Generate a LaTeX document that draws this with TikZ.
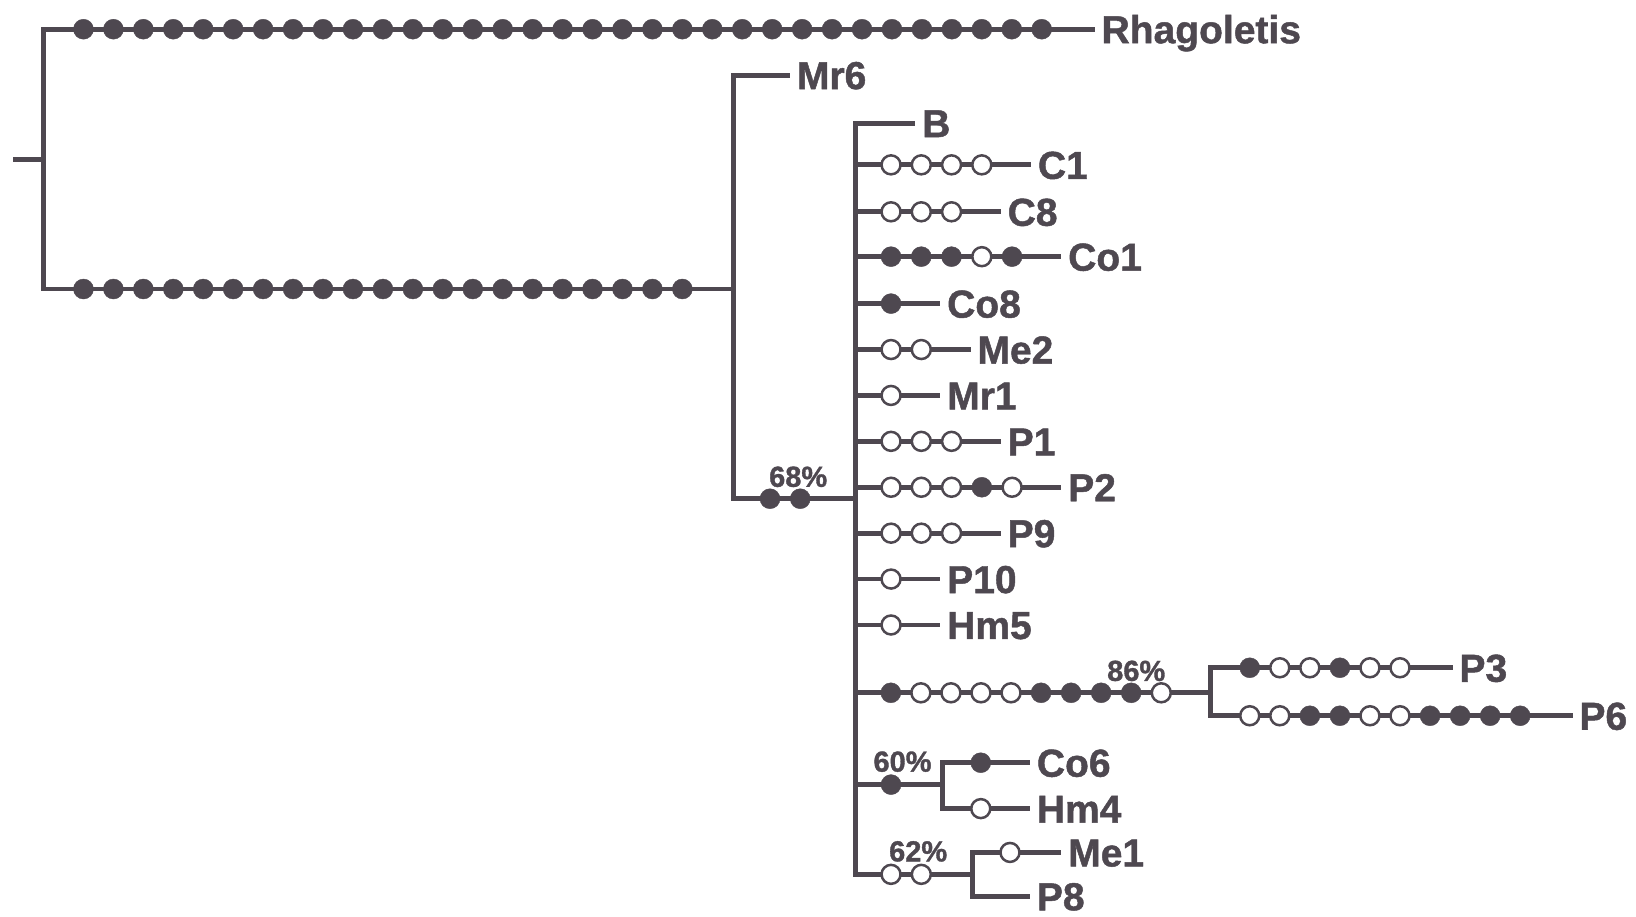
\documentclass[tikz,border=0pt]{standalone}
\usepackage{tikz}
\usepackage{fontspec}
\setmainfont[BoldFeatures={FakeBold=1.2}]{Liberation Sans}
\definecolor{treeink}{RGB}{78,72,80}
\tikzset{
  branch/.style={
    draw=treeink, line width=4.8pt, line cap=rect
  },
  dot full/.style={
    circle, fill=treeink, draw=treeink, inner sep=0pt, minimum size=20pt
  },
  dot open/.style={
    circle, fill=white, draw=treeink, line width=2.5pt, inner sep=0pt, minimum size=19pt
  },
  taxon/.style={
    anchor=west, inner xsep=9pt, inner ysep=0pt, text height=28pt, text depth=0pt,
    text=treeink, font=\fontsize{39}{40}\selectfont\bfseries
  },
  support/.style={
    inner sep=0pt, text=treeink, font=\fontsize{29}{30}\selectfont\bfseries
  }
}

\begin{document}
\begin{tikzpicture}[x=1.0434pt, y=-1.0434pt]
\useasboundingbox (0,0) rectangle (1568,878);

% 根：外群 Rhagoletis 与内群
\coordinate (root) at (15,153);
\coordinate (r0) at (42,153);
\coordinate (rt) at (42,28);
\coordinate (rb) at (42,277);
\coordinate (n1) at (703,277);
\node[taxon] (rhag) at (1047,28) {Rhagoletis};

\draw[branch] (root) -- (r0);
\draw[branch] (rt) -- (rb);
\draw[branch] (rt) -- (rhag);
\draw[branch] (rb) -- (n1);
\foreach \i in {0,...,32}
  \node[dot full] (rh-\i) at ({80+28.7*\i},28) {};
\foreach \i in {0,...,20}
  \node[dot full] (in-\i) at ({80+28.7*\i},277) {};

% Mr6 与 68% 支
\coordinate (n1t) at (703,72);
\coordinate (n1b) at (703,478);
\coordinate (n2) at (820,478);
\node[taxon] (mr6) at (755,72) {Mr6};
\draw[branch] (n1t) -- (n1b);
\draw[branch] (n1t) -- (mr6);
\draw[branch] (n1b) -- (n2);
\node[dot full] (s68-1) at (738,478) {};
\node[dot full] (s68-2) at (767,478) {};
\node[support] (l68) at (765,457) {68\%};

% 多歧分支：B 及单独的叶
\coordinate (n2t) at (820,118);
\coordinate (n2b) at (820,838);
\draw[branch] (n2t) -- (n2b);
\node[taxon] (b) at (875,118) {B};
\draw[branch] (n2t) -- (b);

\foreach \y/\xe/\nm/\lab/\st in {
  158/986/c1/C1/{open,open,open,open},
  203/957/c8/C8/{open,open,open},
  246/1015/co1/Co1/{full,full,full,open,full},
  291/899/co8/Co8/{full},
  335/928/me2/Me2/{open,open},
  379/899/mr1/Mr1/{open},
  423/957/p1/P1/{open,open,open},
  467/1015/p2/P2/{open,open,open,full,open},
  511/957/p9/P9/{open,open,open},
  555/899/p10/P10/{open},
  599/899/hm5/Hm5/{open}}{
  \node[taxon] (\nm) at (\xe,\y) {\lab};
  \draw[branch] (n2t |- \nm) -- (\nm);
  \foreach \s [count=\i] in \st
    \node[dot \s] (\nm-\i) at ({825+29*\i},\y) {};
}

% 86% 支：P3 与 P6
\coordinate (n3) at (1160,664);
\coordinate (n3t) at (1160,640);
\coordinate (n3b) at (1160,686);
\draw[branch] (n2t |- n3) -- (n3);
\foreach \s [count=\i] in {full,open,open,open,open,full,full,full,full,open}
  \node[dot \s] (c86-\i) at ({825+28.8*\i},664) {};
\node[support] (l86) at (1089,643) {86\%};
\node[taxon] (p3) at (1390,640) {P3};
\node[taxon] (p6) at (1505,686) {P6};
\draw[branch] (n3t) -- (n3b);
\draw[branch] (n3t) -- (p3);
\draw[branch] (n3b) -- (p6);
\foreach \s [count=\i] in {full,open,open,full,open,open}
  \node[dot \s] (p3-\i) at ({1169+28.8*\i},640) {};
\foreach \s [count=\i] in {open,open,full,full,open,open,full,full,full,full}
  \node[dot \s] (p6-\i) at ({1169+28.8*\i},686) {};

% 60% 支：Co6 与 Hm4
\coordinate (n4) at (903,752);
\coordinate (n4t) at (903,731);
\coordinate (n4b) at (903,775);
\draw[branch] (n2t |- n4) -- (n4);
\node[dot full] (c60-1) at (854,752) {};
\node[support] (l60) at (865,730) {60\%};
\node[taxon] (co6) at (985,731) {Co6};
\node[taxon] (hm4) at (985,775) {Hm4};
\draw[branch] (n4t) -- (n4b);
\draw[branch] (n4t) -- (co6);
\draw[branch] (n4b) -- (hm4);
\node[dot full] (co6-1) at (940,731) {};
\node[dot open] (hm4-1) at (940,775) {};

% 62% 支：Me1 与 P8
\coordinate (n5) at (932,838);
\coordinate (n5t) at (932,817);
\coordinate (n5b) at (932,859);
\draw[branch] (n2b) -- (n5);
\node[dot open] (c62-1) at (854,838) {};
\node[dot open] (c62-2) at (883,838) {};
\node[support] (l62) at (880,816) {62\%};
\node[taxon] (me1) at (1015,817) {Me1};
\node[taxon] (p8) at (985,859) {P8};
\draw[branch] (n5t) -- (n5b);
\draw[branch] (n5t) -- (me1);
\draw[branch] (n5b) -- (p8);
\node[dot open] (me1-1) at (968,817) {};

\end{tikzpicture}
\end{document}
